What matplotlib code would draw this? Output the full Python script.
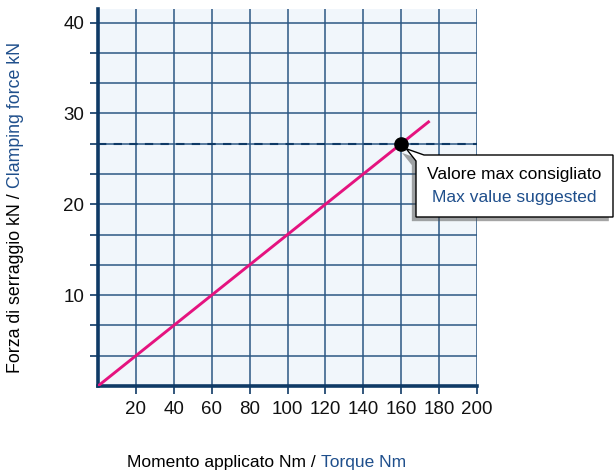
import matplotlib
matplotlib.use("Agg")
import matplotlib.pyplot as plt
import matplotlib.patheffects as pe
from matplotlib.patches import Polygon
from matplotlib.ticker import FixedLocator, FuncFormatter

# data
torque = [0, 175]          # Nm
clamp_force = [0, 29.17]   # kN
max_torque = 160
max_force = 26.67
x_ticks = [20, 40, 60, 80, 100, 120, 140, 160, 180, 200]
y_ticks = [10 / 3 * i for i in range(1, 13)]
y_labeled = [10, 20, 30, 40]

navy = '#0f3a66'
grid_col = '#2d5884'
blue_txt = '#1f4f8c'
pink = '#e5137f'
bg = '#f1f6fb'

plt.rcParams['font.family'] = ['Liberation Sans', 'DejaVu Sans']

W, H = 616, 472
fig = plt.figure(figsize=(W / 100, H / 100), dpi=100)
ax = fig.add_axes([98 / W, 1 - 386 / H, (477 - 98) / W, (386 - 9) / H])
ax.set_facecolor(bg)

ax.set_xlim(0, 200)
ax.set_ylim(0, 41.5)
ax.xaxis.set_major_locator(FixedLocator(x_ticks))
ax.yaxis.set_major_locator(FixedLocator(y_ticks))
ax.yaxis.set_major_formatter(FuncFormatter(
    lambda v, p: f"{round(v)}" if min(abs(v - t) for t in y_labeled) < 1e-6 else ""))
ax.grid(True, color=grid_col, lw=1.1, zorder=1)
ax.set_axisbelow(True)

for side in ['top', 'right']:
    ax.spines[side].set_visible(False)
for side in ['left', 'bottom']:
    ax.spines[side].set_color(navy)
    ax.spines[side].set_linewidth(2.6)

ax.tick_params(axis='both', direction='out', length=6, width=1.2, color=navy,
               labelsize=13.5, labelcolor='#111111')
ax.tick_params(axis='x', pad=5)
ax.tick_params(axis='y', pad=4)

ax.axhline(max_force, color=navy, lw=1.5, ls=(0, (4, 3.5)), zorder=3)
ax.plot(torque, clamp_force, color=pink, lw=2.1, solid_capstyle='butt', zorder=4)
ax.plot([max_torque], [max_force], 'o', color='black', ms=9.5, zorder=5)

# callout: box with a pointer to the max point, drawn as one shape
box_l, box_t, box_w, box_h = 416, 155, 197, 62
box_r, box_b = box_l + box_w, box_t + box_h
px, py = ax.transData.transform((max_torque, max_force))
tip = (px + 5, (H - py) + 5)          # top-left pixel coords
outline = [(box_l, box_t + 6), tip, (box_l + 8, box_t), (box_r, box_t),
           (box_r, box_b), (box_l, box_b)]
callout = Polygon([(x / W, 1 - y / H) for x, y in outline], closed=True,
                  transform=fig.transFigure, fc='white', ec='black', lw=1, zorder=6)
callout.set_path_effects([pe.SimplePatchShadow(offset=(-3, -3), alpha=0.5), pe.Normal()])
fig.add_artist(callout)
bx = box_l + box_w / 2
fig.text(bx / W, 1 - 174 / H, "Valore max consigliato", ha='center', va='center',
         fontsize=12.5, color='black', zorder=7)
fig.text(bx / W, 1 - 197.5 / H, "Max value suggested", ha='center', va='center',
         fontsize=12.5, color=blue_txt, zorder=7)

# axis titles in two colours
renderer = fig.canvas.get_renderer()
inv = fig.transFigure.inverted()

xl = fig.text(127 / W, 1 - 462 / H, "Momento applicato Nm / ", ha='left', va='center',
              fontsize=12.5, color='black')
ext = xl.get_window_extent(renderer)
x1 = inv.transform((ext.x1, ext.y0))[0]
fig.text(x1, 1 - 462 / H, "Torque Nm", ha='left', va='center', fontsize=12.5, color=blue_txt)

yl = fig.text(16 / W, 1 - 373 / H, "Forza di serraggio kN / ", rotation=90,
              ha='center', va='bottom', fontsize=12.8, color='black')
ext = yl.get_window_extent(renderer)
y1 = inv.transform((ext.x0, ext.y1))[1]
fig.text(16 / W, y1, "Clamping force kN", rotation=90, ha='center', va='bottom',
         fontsize=12.8, color=blue_txt)

fig.savefig("out.png", dpi=100)
